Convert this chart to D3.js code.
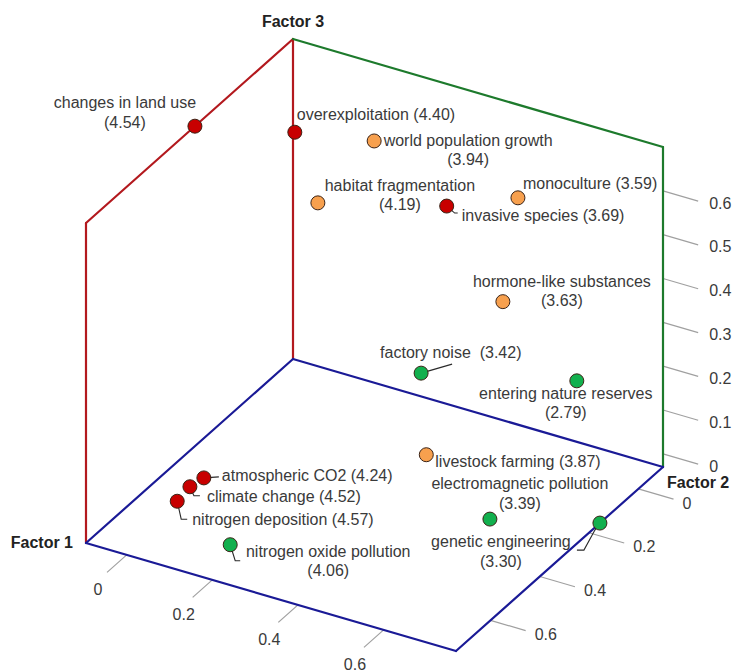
<!DOCTYPE html>
<html>
<head>
<meta charset="utf-8">
<script src="https://cdn.jsdelivr.net/npm/d3@7"></script>
<style>
  html, body { margin: 0; padding: 0; background: #fff; }
  svg { display: block; font-family: "Liberation Sans", Arial, sans-serif; }
</style>
</head>
<body>
<svg id="chart" width="732" height="670"></svg>
<script>
// Stressors with their mean ratings and loadings on three factors
const names = [
  "changes in land use", "overexploitation", "world population growth",
  "habitat fragmentation", "invasive species", "monoculture",
  "hormone-like substances", "factory noise", "entering nature reserves",
  "livestock farming", "atmospheric CO2", "climate change",
  "nitrogen deposition", "nitrogen oxide pollution",
  "electromagnetic pollution", "genetic engineering"
];
const means   = [4.54, 4.40, 3.94, 4.19, 3.69, 3.59, 3.63, 3.42, 2.79, 3.87, 4.24, 4.52, 4.57, 4.06, 3.39, 3.30];
const factor1 = [-0.095, -0.047, 0.186, 0.115, 0.379, 0.520, 0.509, 0.348, 0.669, 0.424, 0.110, 0.116, 0.118, 0.194, 0.618, 0.769];
const factor2 = [0.298, -0.024, 0.059, 0.164, 0.100, 0.056, 0.098, 0.150, 0.076, 0.261, 0.618, 0.685, 0.740, 0.657, 0.340, 0.156];
const factor3 = [0.700, 0.539, 0.627, 0.518, 0.554, 0.591, 0.372, 0.189, 0.226, 0.080, 0.116, 0.131, 0.126, 0.007, 0.028, -0.030];
const cluster = ["A", "A", "B", "B", "A", "B", "B", "C", "C", "B", "A", "A", "A", "C", "C", "C"];

const ticks1 = [0, 0.2, 0.4, 0.6];
const ticks2 = [0, 0.2, 0.4, 0.6];
const ticks3 = [0, 0.1, 0.2, 0.3, 0.4, 0.5, 0.6];

// Label placement relative to each projected point
// two: name and mean on separate lines; lead: leader polyline offsets
const labelLayout = [
  { dx: -70, dy: -18, anchor: "middle", two: true },
  { dx: 2,   dy: -12, anchor: "start" },
  { dx: 94,  dy: 5,   anchor: "middle", two: true },
  { dx: 82,  dy: -12, anchor: "middle", two: true },
  { dx: 15,  dy: 15,  anchor: "start", lead: [[0, 0], [8, 7], [11, 7]] },
  { dx: 5,   dy: -9,  anchor: "start" },
  { dx: 59,  dy: -15, anchor: "middle", two: true },
  { dx: -41, dy: -15, anchor: "start", gap: "  ", lead: [[0, 0], [31, -9]] },
  { dx: -11, dy: 18,  anchor: "middle", two: true },
  { dx: 9,   dy: 12,  anchor: "start" },
  { dx: 18,  dy: 3,   anchor: "start", lead: [[0, 0], [15, -1]] },
  { dx: 17,  dy: 15,  anchor: "start", lead: [[0, 0], [4, 9], [10, 9]] },
  { dx: 15,  dy: 24,  anchor: "start", lead: [[0, 0], [4, 18], [10, 18]] },
  { dx: 98,  dy: 12,  anchor: "middle", two: true, lead: [[0, 0], [5, 16], [10, 16]] },
  { dx: 30,  dy: -30, anchor: "middle", two: true },
  { dx: -99, dy: 24,  anchor: "middle", two: true, lead: [[0, 0], [-5, 7], [-16, 27], [-23, 27]] }
];

const colors = { A: "#c80000", B: "#f7a04e", C: "#12b04e" };

const svg = d3.select("#chart");
svg.append("rect").attr("width", 732).attr("height", 670).attr("fill", "#fff");

// Axis scales map each factor to a unit cube coordinate
const s1 = d3.scaleLinear().domain([-0.095, 0.769]).range([0, 1]);
const s2 = d3.scaleLinear().domain([-0.10, 0.74]).range([0, 1]);
const s3 = d3.scaleLinear().domain([-0.03, 0.70]).range([0, 1]);

// Oblique projection of the unit cube onto the page
const origin = [293, 359];
const e1 = [370, 108];
const e2 = [-207, 184];
const e3 = [0, -320];
function project(u1, u2, u3) {
  return [origin[0] + u1 * e1[0] + u2 * e2[0] + u3 * e3[0],
          origin[1] + u1 * e1[1] + u2 * e2[1] + u3 * e3[1]];
}

const line = d3.line();

// Box edges
const edges = [
  { c: "#b3191e", p: [[0, 0, 0], [0, 0, 1]] },
  { c: "#b3191e", p: [[0, 1, 0], [0, 1, 1]] },
  { c: "#b3191e", p: [[0, 1, 1], [0, 0, 1]] },
  { c: "#1d7a2c", p: [[0, 0, 1], [1, 0, 1]] },
  { c: "#1d7a2c", p: [[1, 0, 1], [1, 0, 0]] },
  { c: "#1a1a96", p: [[0, 0, 0], [1, 0, 0]] },
  { c: "#1a1a96", p: [[0, 0, 0], [0, 1, 0]] },
  { c: "#1a1a96", p: [[0, 1, 0], [1, 1, 0]] },
  { c: "#1a1a96", p: [[1, 0, 0], [1, 1, 0]] }
];
const tickLen = 0.095;
const tickColor = "#a0a0a0";
const textColor = "#3a3a3a";

// Ticks: Factor 1 along the front-left base edge
const gTicks = svg.append("g");
ticks1.forEach(t => {
  const a = project(s1(t), 1, 0), b = project(s1(t), 1 + tickLen, 0);
  gTicks.append("path").attr("d", line([a, b])).attr("stroke", tickColor).attr("stroke-width", 1.2).attr("fill", "none");
  gTicks.append("text").attr("x", b[0] - 9).attr("y", b[1] + 17)
    .attr("text-anchor", "middle").attr("dominant-baseline", "central")
    .attr("font-size", 16).attr("fill", textColor).text(d3.format("")(t));
});
// Factor 2 along the front-right base edge
ticks2.forEach(t => {
  const a = project(1, s2(t), 0), b = project(1 + tickLen, s2(t), 0);
  gTicks.append("path").attr("d", line([a, b])).attr("stroke", tickColor).attr("stroke-width", 1.2).attr("fill", "none");
  gTicks.append("text").attr("x", b[0] + 9).attr("y", b[1] + 4)
    .attr("text-anchor", "start").attr("dominant-baseline", "central")
    .attr("font-size", 16).attr("fill", textColor).text(d3.format("")(t));
});
// Factor 3 along the right vertical edge
ticks3.forEach(t => {
  const a = project(1, 0, s3(t)), b = project(1 + tickLen, 0, s3(t));
  gTicks.append("path").attr("d", line([a, b])).attr("stroke", tickColor).attr("stroke-width", 1.2).attr("fill", "none");
  gTicks.append("text").attr("x", b[0] + 11).attr("y", b[1] + 2)
    .attr("text-anchor", "start").attr("dominant-baseline", "central")
    .attr("font-size", 16).attr("fill", textColor).text(d3.format("")(t));
});

svg.append("g").selectAll("path").data(edges).join("path")
  .attr("d", d => line(d.p.map(q => project(...q))))
  .attr("stroke", d => d.c).attr("stroke-width", 2.2).attr("fill", "none")
  .attr("stroke-linecap", "round");

// Axis titles
const titleStyle = sel => sel.attr("font-size", 16).attr("font-weight", "bold").attr("fill", "#222");
const t3 = project(0, 0, 1);
svg.append("text").attr("x", t3[0]).attr("y", t3[1] - 12).attr("text-anchor", "middle").call(titleStyle).text("Factor 3");
const t1 = project(0, 1, 0);
svg.append("text").attr("x", t1[0] - 13).attr("y", t1[1] + 5).attr("text-anchor", "end").call(titleStyle).text("Factor 1");
const t2 = project(1, 0, 0);
svg.append("text").attr("x", t2[0] + 4).attr("y", t2[1] + 21).attr("text-anchor", "start").call(titleStyle).text("Factor 2");

// Points
const pts = names.map((n, i) => ({
  name: n, mean: means[i], c: cluster[i], lay: labelLayout[i],
  p: project(s1(factor1[i]), s2(factor2[i]), s3(factor3[i]))
}));

const gLead = svg.append("g");
pts.filter(d => d.lay.lead).forEach(d => {
  gLead.append("path")
    .attr("d", line(d.lay.lead.map(o => [d.p[0] + o[0], d.p[1] + o[1]])))
    .attr("stroke", "#2a2a2a").attr("stroke-width", 1.1).attr("fill", "none");
});

svg.append("g").selectAll("circle").data(pts).join("circle")
  .attr("cx", d => d.p[0]).attr("cy", d => d.p[1]).attr("r", 7)
  .attr("fill", d => colors[d.c]).attr("stroke", "#3b2316").attr("stroke-width", 1);

// Labels
const fmt = d3.format(".2f");
const gLab = svg.append("g").attr("font-size", 16).attr("fill", textColor);
pts.forEach(d => {
  const L = d.lay;
  const t = gLab.append("text")
    .attr("x", d.p[0] + L.dx).attr("y", d.p[1] + L.dy)
    .attr("text-anchor", L.anchor).style("white-space", "pre");
  if (L.two) {
    t.append("tspan").attr("x", d.p[0] + L.dx).text(d.name);
    t.append("tspan").attr("x", d.p[0] + L.dx).attr("dy", 19.5).text("(" + fmt(d.mean) + ")");
  } else {
    t.text(d.name + (L.gap || " ") + "(" + fmt(d.mean) + ")");
  }
});
</script>
</body>
</html>
